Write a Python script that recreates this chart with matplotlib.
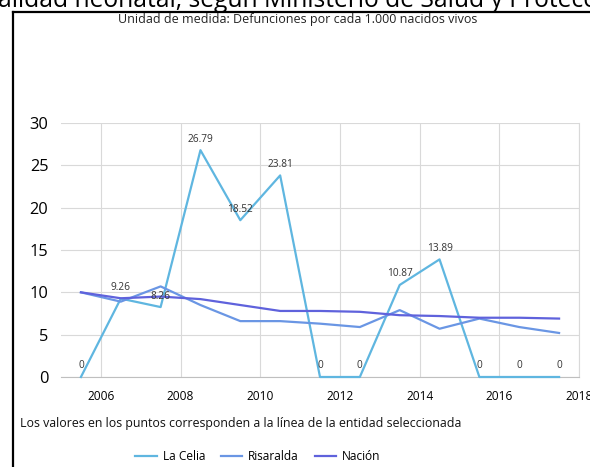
import matplotlib
matplotlib.use("Agg")
import matplotlib.pyplot as plt
from matplotlib.lines import Line2D

plt.rcParams['font.family'] = ['Open Sans', 'DejaVu Sans']

years = [2005.5, 2006.5, 2007.5, 2008.5, 2009.5, 2010.5, 2011.5, 2012.5,
         2013.5, 2014.5, 2015.5, 2016.5, 2017.5]
la_celia = [0, 9.26, 8.26, 26.79, 18.52, 23.81, 0, 0, 10.87, 13.89, 0, 0, 0]
risaralda = [10.0, 8.9, 10.7, 8.5, 6.6, 6.6, 6.3, 5.9, 7.9, 5.7, 6.9, 5.9, 5.2]
nacion = [10.0, 9.3, 9.5, 9.2, 8.5, 7.8, 7.8, 7.7, 7.3, 7.2, 7.0, 7.0, 6.9]
series_names = ["La Celia", "Risaralda", "Nación"]
colors = ["#5fb6e0", "#6a96e4", "#5f62dc"]

xticks = [2006, 2008, 2010, 2012, 2014, 2016, 2018]
yticks = [0, 5, 10, 15, 20, 25, 30]

W, H = 590, 467
fig = plt.figure(figsize=(W / 100, H / 100), dpi=100)

# border lines
fig.add_artist(Line2D([12.5 / W, 12.5 / W], [0, 1 - 12 / H], color="black", lw=1.6,
                      transform=fig.transFigure))
fig.add_artist(Line2D([12.5 / W, 1], [1 - 12 / H, 1 - 12 / H], color="black", lw=1.6,
                      transform=fig.transFigure))

# clipped title
fig.text(0.467, 1 - 7 / H,
         "Tasa de mortalidad neonatal, según Ministerio de Salud y Protección Social",
         ha="center", va="baseline", fontsize=17.7, color="black")
fig.text(298 / W, 1 - 20 / H, "Unidad de medida: Defunciones por cada 1.000 nacidos vivos",
         ha="center", va="center", fontsize=9, color="#222222")

ax = fig.add_axes([61 / W, (H - 377) / H, (579 - 61) / W, (377 - 123) / H])
for vals, c, name in zip([la_celia, risaralda, nacion], colors, series_names):
    ax.plot(years, vals, color=c, lw=1.6, label=name, zorder=3, clip_on=False)

for x, v in zip(years, la_celia):
    lbl = f"{v:g}" if v != 0 else "0"
    ax.annotate(lbl, (x, v), xytext=(0, 4), textcoords="offset points",
                ha="center", va="bottom", fontsize=7.3, color="#333333", zorder=4)

ax.set_xlim(2005, 2018)
ax.set_ylim(0, 30)
ax.set_xticks(xticks)
ax.set_yticks(yticks)
ax.set_xticklabels([str(t) for t in xticks], fontsize=8.6)
ax.set_yticklabels([str(t) for t in yticks], fontsize=11.8)
ax.grid(True, color="#d9d9d9", lw=0.8)
ax.set_axisbelow(True)
ax.tick_params(length=0, pad=9)
ax.tick_params(axis="x", pad=9)
for s in ["top", "left"]:
    ax.spines[s].set_visible(False)
ax.spines["right"].set_color("#d9d9d9")
ax.spines["bottom"].set_color("#bfbfbf")

fig.text(20 / W, 1 - 424 / H,
         "Los valores en los puntos corresponden a la línea de la entidad seleccionada",
         ha="left", va="center", fontsize=8.9, color="#111111")

fig.legend(loc="center", bbox_to_anchor=(258 / W, 1 - 457 / H), ncol=3, frameon=False,
           fontsize=8.6, handlelength=1.8, handletextpad=0.5, columnspacing=1.3)

fig.savefig("out.png", dpi=100)
